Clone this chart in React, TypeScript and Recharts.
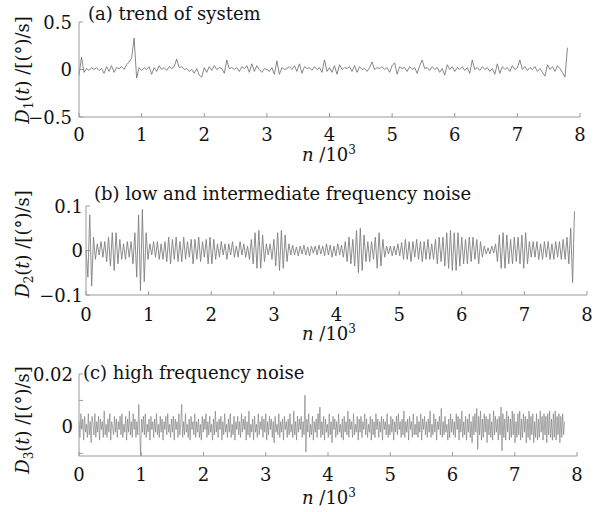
import React from 'react';
import { LineChart, Line, XAxis, YAxis } from 'recharts';

// sample spacing along n (in units of 10^3)
const STEP_A = 0.04;
const STEP_B = 0.03;
const STEP_C = 0.015;

const X_TICKS = [0, 1, 2, 3, 4, 5, 6, 7, 8];
const Y_TICKS_A = [-0.5, 0, 0.5];
const Y_TICKS_B = [-0.1, 0, 0.1];
const Y_TICKS_C = [-0.01, 0, 0.01, 0.02];
const Y_LABELED_C = [0, 0.02];

// (a) trend of system
const D1 = [
  -0.06, 0.13, -0.03, 0.01, -0.01, 0.02, 0.0, 0.02, -0.01, 0.01,
  -0.04, 0.03, -0.02, 0.04, -0.03, 0.02, 0.01, 0.03, 0.0, 0.05,
  0.08, 0.12, 0.33, -0.09, 0.02, -0.01, 0.02, 0.0, 0.03, -0.05,
  0.02, -0.02, 0.04, 0.0, 0.02, -0.01, 0.03, 0.01, 0.03, 0.11,
  0.02, 0.03, 0.0, 0.01, -0.02, 0.0, -0.04, 0.01, -0.06, -0.08,
  0.02, -0.03, 0.03, -0.01, 0.04, 0.0, 0.02, 0.01, -0.04, 0.1,
  0.01, 0.02, 0.0, 0.02, -0.02, 0.03, 0.01, 0.04, -0.03, 0.06,
  -0.02, 0.04, 0.0, -0.03, 0.01, 0.0, -0.02, 0.02, -0.05, 0.09,
  -0.05, 0.02, 0.0, 0.01, 0.03, 0.0, 0.04, -0.02, 0.06, -0.04,
  0.03, 0.01, 0.02, -0.01, 0.03, 0.0, 0.02, -0.03, 0.1, -0.02,
  0.02, -0.03, 0.04, -0.05, 0.05, 0.0, 0.02, 0.01, 0.03, -0.02,
  0.04, -0.03, 0.03, 0.0, 0.01, -0.02, 0.02, 0.08, 0.0, 0.02,
  0.01, 0.03, 0.0, 0.02, -0.03, 0.04, 0.07, -0.05, 0.03, 0.01,
  0.02, -0.02, 0.03, 0.0, 0.02, -0.04, 0.04, 0.1, 0.01, 0.02,
  -0.01, 0.03, 0.0, 0.02, -0.03, 0.01, -0.06, 0.05, 0.0, 0.03,
  -0.02, 0.02, 0.0, 0.03, -0.01, 0.02, -0.04, 0.1, 0.0, 0.02,
  -0.01, 0.03, 0.0, 0.02, -0.02, 0.01, -0.05, 0.06, -0.04, 0.03,
  0.0, 0.02, -0.02, 0.04, 0.0, 0.02, 0.1, 0.0, 0.03, -0.01,
  0.02, 0.0, 0.03, -0.02, 0.01, -0.03, -0.07, 0.05, 0.0, 0.03,
  -0.02, 0.04, 0.01, -0.03, -0.08, 0.23,
];

// (b) low and intermediate frequency noise
const D2 = [
  0.0, -0.06, 0.08, -0.08, 0.03, -0.02, 0.015, -0.01, 0.02, -0.015,
  0.02, -0.025, 0.03, -0.035, 0.04, -0.045, 0.04, -0.03, 0.025, -0.02,
  0.015, -0.02, 0.02, -0.015, 0.02, -0.03, 0.04, -0.06, 0.08, -0.09,
  0.092, -0.07, 0.04, -0.02, 0.015, -0.01, 0.02, -0.015, 0.02, -0.02,
  0.015, -0.02, 0.02, -0.025, 0.03, -0.03, 0.025, -0.02, 0.03, -0.025,
  0.02, -0.025, 0.03, -0.02, 0.02, -0.015, 0.025, -0.03, 0.025, -0.02,
  0.03, -0.025, 0.02, -0.015, 0.025, -0.03, 0.03, -0.03, 0.025, -0.02,
  0.015, -0.015, 0.02, -0.01, 0.015, -0.02, 0.015, -0.01, 0.02, -0.015,
  0.01, -0.015, 0.02, -0.01, 0.015, -0.015, 0.01, -0.02, 0.025, -0.03,
  0.04, -0.04, 0.045, -0.04, 0.035, -0.025, 0.015, -0.01, 0.015, -0.02,
  0.025, -0.035, 0.04, -0.045, 0.045, -0.04, 0.035, -0.025, 0.015, -0.01,
  0.012, -0.01, 0.008, -0.012, 0.01, -0.008, 0.012, -0.01, 0.008, -0.012,
  0.01, -0.006, 0.01, -0.01, 0.012, -0.008, 0.01, -0.012, 0.015, -0.01,
  0.012, -0.015, 0.01, -0.012, 0.015, -0.01, 0.012, -0.015, 0.02, -0.025,
  0.03, -0.03, 0.025, -0.035, 0.045, -0.05, 0.05, -0.045, 0.035, -0.025,
  0.02, -0.025, 0.02, -0.02, 0.03, -0.04, 0.04, -0.035, 0.025, -0.015,
  0.01, -0.008, 0.01, -0.012, 0.01, -0.01, 0.015, -0.012, 0.018, -0.02,
  0.025, -0.02, 0.02, -0.025, 0.02, -0.015, 0.025, -0.02, 0.02, -0.025,
  0.02, -0.02, 0.025, -0.02, 0.015, -0.02, 0.025, -0.03, 0.03, -0.025,
  0.03, -0.035, 0.04, -0.04, 0.045, -0.045, 0.04, -0.045, 0.04, -0.035,
  0.03, -0.03, 0.025, -0.03, 0.03, -0.025, 0.03, -0.02, 0.025, -0.03,
  0.02, -0.015, 0.01, -0.008, 0.006, -0.008, 0.01, -0.006, 0.015, -0.025,
  0.035, -0.04, 0.04, -0.04, 0.035, -0.03, 0.025, -0.03, 0.03, -0.025,
  0.03, -0.03, 0.035, -0.04, 0.04, -0.03, 0.02, -0.015, 0.02, -0.015,
  0.02, -0.02, 0.015, -0.02, 0.02, -0.015, 0.02, -0.02, 0.015, -0.02,
  0.02, -0.015, 0.02, -0.02, 0.025, -0.02, 0.03, -0.03, 0.05, -0.072,
  0.088,
];

// (c) high frequency noise
const D3 = [
  0.002, -0.004, 0.005, -0.001, 0.003, -0.005, 0.004, -0.002, 0.001, -0.004,
  0.005, -0.003, 0.002, -0.006, 0.004, 0.001, -0.003, 0.005, -0.004, 0.002,
  -0.002, 0.004, -0.005, 0.003, -0.001, 0.002, -0.004, 0.006, -0.003, 0.001,
  -0.004, 0.003, -0.002, 0.005, -0.005, 0.002, 0.0, -0.003, 0.004, -0.002,
  0.003, -0.004, 0.002, -0.001, 0.004, -0.003, 0.005, -0.004, 0.001, -0.002,
  0.004, -0.005, 0.003, -0.002, 0.006, -0.003, 0.002, -0.004, 0.005, -0.001,
  0.003, -0.004, 0.002, -0.003, 0.0085, -0.002, -0.011, 0.003, -0.002, 0.004,
  -0.003, 0.005, -0.004, 0.001, -0.002, 0.003, -0.005, 0.004, -0.001, 0.002,
  -0.004, 0.003, -0.002, 0.005, -0.003, 0.001, -0.004, 0.004, -0.002, 0.003,
  -0.005, 0.002, -0.001, 0.004, -0.003, 0.005, -0.002, 0.001, -0.004, 0.003,
  -0.002, 0.004, -0.005, 0.003, -0.001, 0.002, -0.004, 0.005, -0.003, 0.001,
  0.0085, -0.004, 0.002, -0.003, 0.005, -0.002, 0.001, -0.004, 0.003, -0.005,
  0.004, -0.001, 0.002, -0.003, 0.005, -0.004, 0.002, -0.002, 0.003, -0.004,
  0.001, -0.005, 0.004, -0.002, 0.003, -0.001, 0.005, -0.004, 0.002, -0.003,
  0.004, -0.002, 0.001, -0.005, 0.003, -0.003, 0.006, -0.002, 0.002, -0.004,
  0.003, -0.001, 0.004, -0.005, 0.002, -0.003, 0.005, -0.002, 0.001, -0.004,
  0.003, -0.002, 0.005, -0.004, 0.001, -0.003, 0.004, -0.005, 0.002, -0.001,
  0.004, -0.003, 0.002, -0.004, 0.005, -0.002, 0.003, -0.001, 0.004, -0.005,
  0.002, -0.003, 0.006, -0.004, 0.001, -0.002, 0.003, -0.005, 0.004, -0.002,
  0.001, -0.004, 0.005, -0.003, 0.002, -0.001, 0.004, -0.004, 0.003, -0.002,
  0.005, -0.005, 0.002, -0.003, 0.004, -0.001, 0.003, -0.004, 0.002, -0.006,
  0.004, -0.002, 0.001, -0.003, 0.005, -0.004, 0.002, -0.002, 0.003, -0.005,
  0.004, -0.001, 0.002, -0.004, 0.003, -0.003, 0.005, -0.002, 0.001, -0.004,
  0.006, -0.003, 0.002, -0.005, 0.004, -0.002, 0.003, -0.001, 0.004, -0.004,
  0.002, -0.003, 0.012, -0.0095, 0.003, -0.002, 0.005, -0.004, 0.001, -0.003,
  0.004, -0.005, 0.002, -0.002, 0.003, -0.004, 0.005, -0.001, 0.0075, -0.004,
  0.002, -0.003, 0.004, -0.005, 0.003, -0.002, 0.001, -0.004, 0.005, -0.003,
  0.002, -0.006, 0.004, -0.001, 0.003, -0.004, 0.002, -0.003, 0.005, -0.002,
  0.001, -0.004, 0.003, -0.005, 0.004, -0.002, 0.002, -0.003, 0.006, -0.004,
  0.003, -0.001, 0.002, -0.004, 0.005, -0.003, 0.001, -0.002, 0.004, -0.005,
  0.003, -0.002, 0.004, -0.004, 0.002, -0.001, 0.005, -0.003, 0.003, -0.004,
  0.001, -0.002, 0.004, -0.005, 0.003, -0.003, 0.002, -0.004, 0.005, -0.001,
  0.003, -0.004, 0.002, -0.002, 0.004, -0.005, 0.003, -0.001, 0.002, -0.003,
  0.005, -0.004, 0.001, -0.003, 0.004, -0.002, 0.003, -0.005, 0.002, -0.002,
  0.004, -0.003, 0.005, -0.001, 0.002, -0.004, 0.003, -0.003, 0.006, -0.004,
  0.002, -0.002, 0.003, -0.005, 0.004, -0.001, 0.002, -0.004, 0.005, -0.003,
  0.001, -0.003, 0.004, -0.004, 0.002, -0.002, 0.005, -0.005, 0.003, -0.001,
  0.004, -0.003, 0.002, -0.004, 0.003, -0.002, 0.006, -0.004, 0.001, -0.003,
  0.005, -0.002, 0.003, -0.005, 0.002, -0.001, 0.004, -0.003, 0.007, -0.004,
  0.002, -0.003, 0.004, -0.002, 0.001, -0.005, 0.003, -0.004, 0.005, -0.002,
  0.003, -0.003, 0.002, -0.004, 0.005, -0.001, 0.004, -0.005, 0.003, -0.002,
  0.006, -0.004, 0.002, -0.003, 0.004, -0.005, 0.003, -0.002, 0.005, -0.004,
  0.002, -0.006, 0.004, -0.003, 0.005, -0.002, 0.007, -0.0085, 0.004, -0.003,
  0.006, -0.005, 0.003, -0.004, 0.005, -0.002, 0.004, -0.006, 0.003, -0.003,
  0.005, -0.004, 0.002, -0.005, 0.006, -0.003, 0.004, -0.002, 0.003, -0.005,
  0.004, -0.003, 0.0075, -0.009, 0.005, -0.004, 0.003, -0.005, 0.006, -0.002,
  0.004, -0.005, 0.003, -0.004, 0.006, -0.003, 0.005, -0.006, 0.002, -0.004,
  0.005, -0.003, 0.006, -0.005, 0.003, -0.004, 0.005, -0.002, 0.004, -0.006,
  0.003, -0.004, 0.006, -0.005, 0.004, -0.003, 0.005, -0.006, 0.002, -0.004,
  0.005, -0.005, 0.003, -0.004, 0.006, -0.002, 0.004, -0.005, 0.005, -0.003,
  0.004, -0.006, 0.005, -0.003, 0.006, -0.004, 0.003, -0.005, 0.005, -0.004,
  0.006, -0.005, 0.004, -0.003, 0.005, -0.006, 0.004, -0.004, 0.005, -0.003,
  0.002,
];

const toRows = (vals: number[], step: number) =>
  vals.map((v, i) => ({ n: Math.round(i * step * 1000) / 1000, v }));

const FONT = '"DejaVu Serif", serif';
const AXIS = '#9a9a9a';
const FS = 18;

const makeXTick = (offset: number) => (props: any) => {
  const { x, y, payload } = props;
  return (
    <g>
      <line x1={x} y1={y} x2={x} y2={y - 4} stroke={AXIS} />
      <text x={x} y={y + offset} textAnchor="middle" fontFamily={FONT} fontSize={FS} fill="#111">
        {payload.value}
      </text>
    </g>
  );
};

const makeYTick = (gap: number, labeled?: number[]) => (props: any) => {
  const { x, y, payload } = props;
  const show = !labeled || labeled.includes(payload.value);
  const txt = payload.value < 0 ? `\u2212${Math.abs(payload.value)}` : `${payload.value}`;
  return (
    <g>
      <line x1={x} y1={y} x2={x + 4} y2={y} stroke={AXIS} />
      {show && (
        <text x={x - gap} y={y + 6.5} textAnchor="end" fontFamily={FONT} fontSize={FS} fill="#111">
          {txt}
        </text>
      )}
    </g>
  );
};

const YLabel = ({ sub, lx, ly }: { sub: string; lx: number; ly: number }) => (
  <text
    x={lx}
    y={ly}
    transform={`rotate(-90 ${lx} ${ly})`}
    textAnchor="middle"
    fontFamily={FONT}
    fontSize={FS}
    fill="#111"
  >
    <tspan fontStyle="italic">D</tspan>
    <tspan fontSize={12} dy={4}>{sub}</tspan>
    <tspan dy={-4}>(</tspan>
    <tspan fontStyle="italic">t</tspan>
    <tspan>) /[(°)/s]</tspan>
  </text>
);

const XLabel = ({ lx, ly }: { lx: number; ly: number }) => (
  <text x={lx} y={ly} textAnchor="middle" fontFamily={FONT} fontSize={FS} fill="#111">
    <tspan fontStyle="italic">n</tspan>
    <tspan> /10</tspan>
    <tspan fontSize={12} dy={-7}>3</tspan>
  </text>
);

interface PanelProps {
  top: number;
  height: number;
  margin: { top: number; right: number; bottom: number; left: number };
  data: { n: number; v: number }[];
  domain: [number, number];
  yTicks: number[];
  labeled?: number[];
  yGap: number;
  xOffset: number;
  sub: string;
  yLabelCy: number;
  xLabelY: number;
  color: string;
  strokeWidth: number;
}

function Panel(p: PanelProps) {
  return (
    <div style={{ position: 'absolute', left: 0, top: p.top }}>
      <LineChart width={608} height={p.height} data={p.data} margin={p.margin}>
        <XAxis
          dataKey="n"
          type="number"
          domain={[0, 8]}
          ticks={X_TICKS}
          interval={0}
          height={30}
          tickSize={0}
          tickMargin={0}
          tickLine={false}
          axisLine={{ stroke: AXIS }}
          tick={makeXTick(p.xOffset)}
          label={<XLabel lx={329} ly={p.xLabelY} />}
        />
        <YAxis
          type="number"
          domain={p.domain}
          ticks={p.yTicks}
          interval={0}
          width={40}
          tickSize={0}
          tickMargin={0}
          tickLine={false}
          axisLine={{ stroke: AXIS }}
          tick={makeYTick(p.yGap, p.labeled)}
          label={<YLabel sub={p.sub} lx={29} ly={p.yLabelCy} />}
        />
        <Line
          type="linear"
          dataKey="v"
          stroke={p.color}
          strokeWidth={p.strokeWidth}
          dot={false}
          isAnimationActive={false}
        />
      </LineChart>
    </div>
  );
}

export default function App() {
  return (
    <div style={{ position: 'absolute', left: 0, top: 0, width: 608, height: 512, background: '#fff' }}>
      <Panel
        top={0}
        height={170}
        margin={{ top: 22, right: 28, bottom: 23, left: 39 }}
        data={toRows(D1, STEP_A)}
        domain={[-0.5, 0.5]}
        yTicks={Y_TICKS_A}
        yGap={7}
        xOffset={24}
        sub="1"
        yLabelCy={70}
        xLabelY={161}
        color="#6a6a6a"
        strokeWidth={0.8}
      />
      <Panel
        top={170}
        height={180}
        margin={{ top: 36, right: 21, bottom: 25, left: 46 }}
        data={toRows(D2, STEP_B)}
        domain={[-0.1, 0.1]}
        yTicks={Y_TICKS_B}
        yGap={3}
        xOffset={26}
        sub="2"
        yLabelCy={74}
        xLabelY={170}
        color="#808080"
        strokeWidth={0.9}
      />
      <Panel
        top={340}
        height={172}
        margin={{ top: 34, right: 31, bottom: 26, left: 39 }}
        data={toRows(D3, STEP_C)}
        domain={[-0.01, 0.02]}
        yTicks={Y_TICKS_C}
        labeled={Y_LABELED_C}
        yGap={6}
        xOffset={25}
        sub="3"
        yLabelCy={80}
        xLabelY={164}
        color="#757575"
        strokeWidth={0.6}
      />
      <svg width={608} height={512} style={{ position: 'absolute', left: 0, top: 0, pointerEvents: 'none' }}>
        <text x={88} y={20} fontFamily={FONT} fontSize={FS} fill="#111">(a) trend of system</text>
        <text x={94} y={200} fontFamily={FONT} fontSize={FS} fill="#111">
          (b) low and intermediate frequency noise
        </text>
        <text x={83} y={379} fontFamily={FONT} fontSize={FS} fill="#111">(c) high frequency noise</text>
      </svg>
    </div>
  );
}
